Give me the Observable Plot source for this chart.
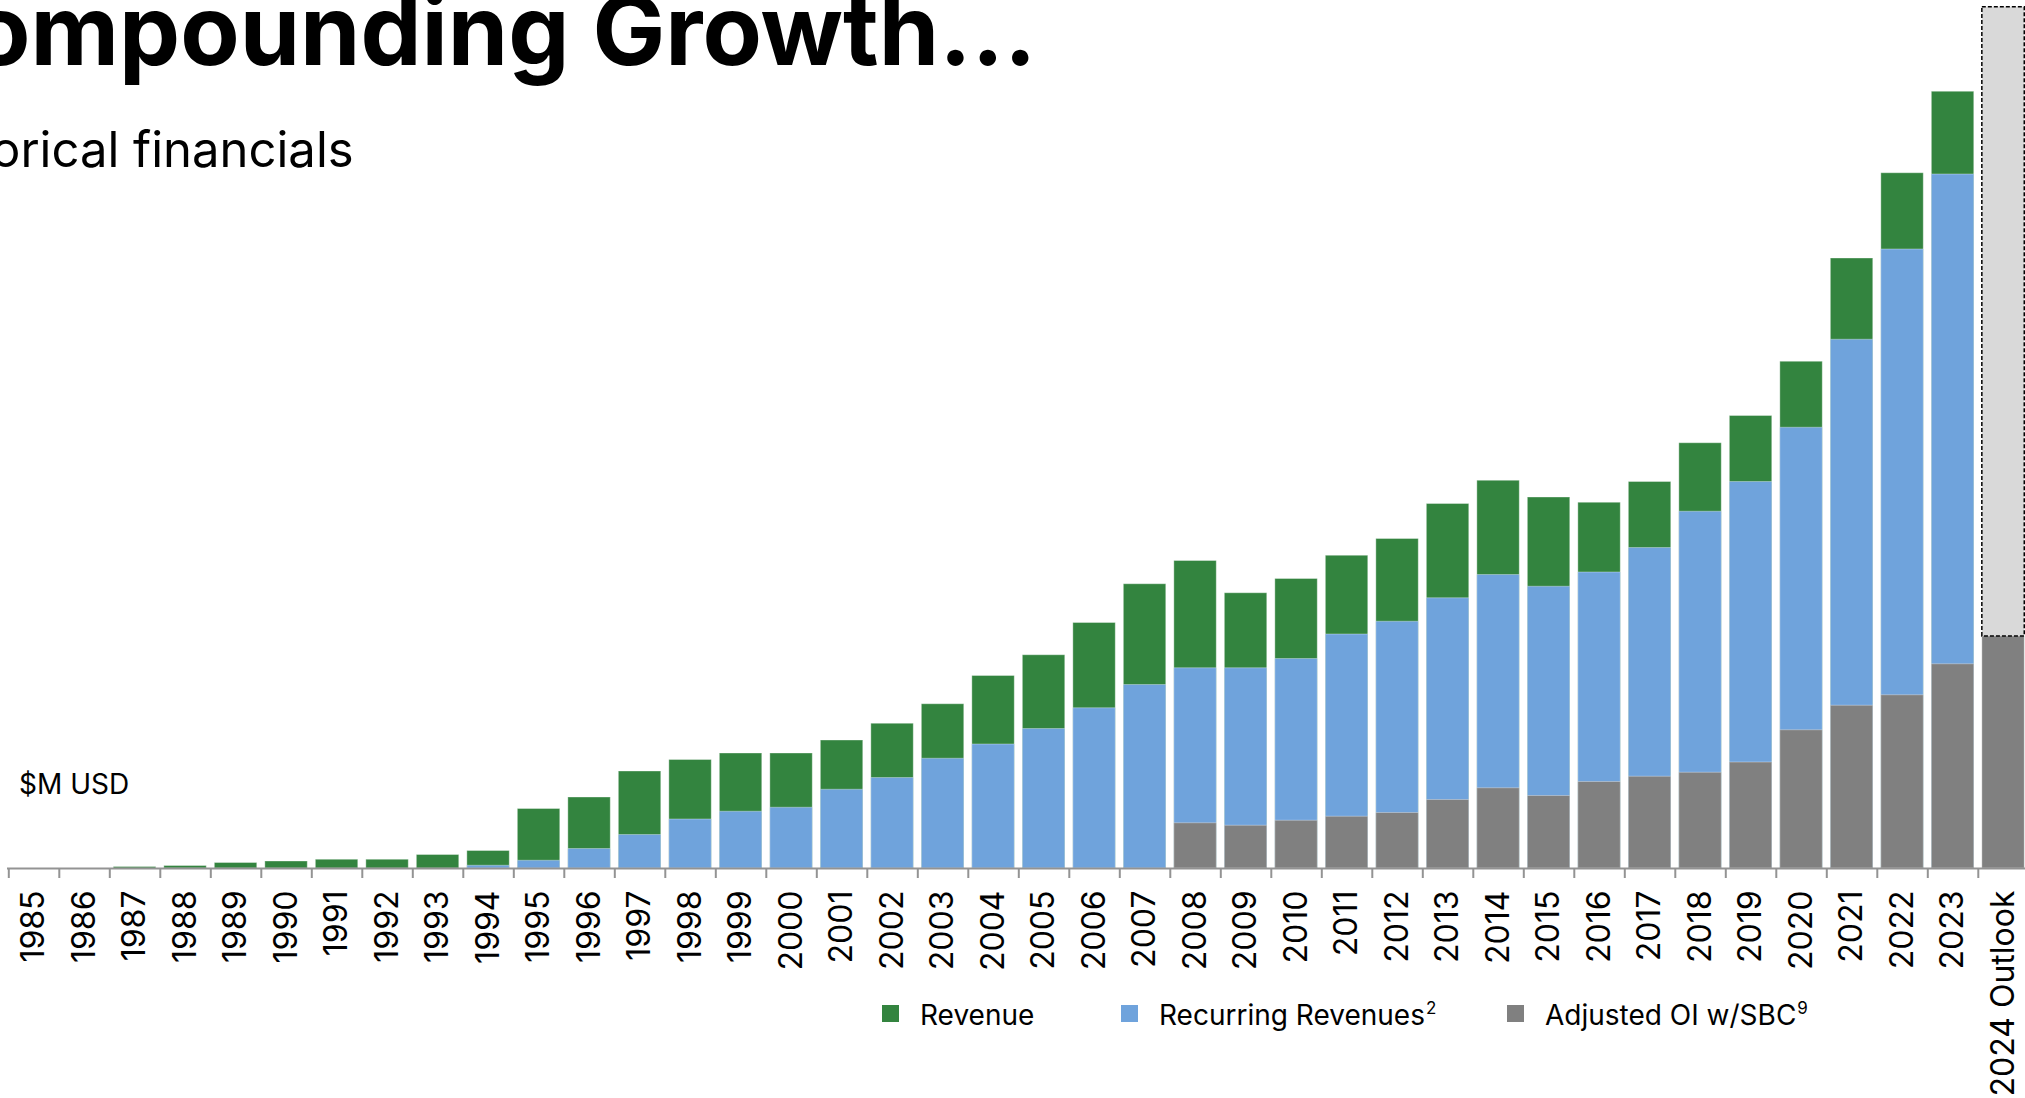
<!DOCTYPE html>
<html>
<head>
<meta charset="utf-8">
<script src="https://cdn.jsdelivr.net/npm/d3@7"></script>
<script src="https://cdn.jsdelivr.net/npm/@observablehq/plot@0.6"></script>
<style>
  html, body { margin: 0; padding: 0; background: #ffffff; width: 2025px; height: 1098px; overflow: hidden; }
  #wrap { position: relative; width: 2025px; height: 1098px; overflow: hidden; font-family: Inter, "Noto Sans", sans-serif; color: #000; }
  #chart { position: absolute; left: 0; top: 0; width: 2025px; }
  #chart svg { overflow: hidden; display: block; }
  .t { position: absolute; white-space: nowrap; line-height: 1; margin: 0; }
  #title { left: -29px; top: -18.7px; font-size: 97px; font-weight: 700; }
  #subtitle { left: -9px; top: 124.7px; font-size: 49px; font-weight: 400; }
  #unit { left: 19px; top: 769.8px; font-size: 28px; }
  .sw { position: absolute; width: 17px; height: 17px; top: 1005px; }
  .lg { position: absolute; white-space: nowrap; line-height: 1; font-size: 28px; top: 1000.8px; }
  .sup { font-size: 17px; position: relative; top: -11px; margin-left: 1px; }
</style>
</head>
<body>
<div id="wrap">
  <div id="chart"></div>
  <div class="t" id="title">ompounding Growth…</div>
  <div class="t" id="subtitle">orical financials</div>
  <div class="t" id="unit">$M USD</div>
  <div id="legend"></div>
</div>
<script>
// ---- Data ($M USD) ----
const years = ["1985","1986","1987","1988","1989","1990","1991","1992","1993","1994",
  "1995","1996","1997","1998","1999","2000","2001","2002","2003","2004",
  "2005","2006","2007","2008","2009","2010","2011","2012","2013","2014",
  "2015","2016","2017","2018","2019","2020","2021","2022","2023","2024 Outlook"];
const revenue = [0, 0, 6, 10, 22, 28, 35, 35, 54, 70,
  238, 284, 388, 434, 460, 460, 512, 579, 657, 770,
  853, 982, 1137, 1230, 1101, 1158, 1251, 1318, 1458, 1551,
  1484, 1463, 1546, 1701, 1810, 2027, 2440, 2781, 3107, null];
const recurringRevenues = [null, null, null, null, null, null, null, null, null, 11,
  31, 78, 134, 196, 227, 243, 315, 362, 439, 496,
  558, 641, 734, 801, 801, 838, 936, 987, 1081, 1174,
  1127, 1184, 1282, 1427, 1546, 1763, 2115, 2476, 2776, null];
const adjustedOI = [null, null, null, null, null, null, null, null, null, null,
  null, null, null, null, null, null, null, null, null, null,
  null, null, null, 181, 171, 191, 207, 222, 274, 321,
  290, 346, 367, 383, 424, 553, 651, 693, 817, 928];
const outlookTop = [null, null, null, null, null, null, null, null, null, null,
  null, null, null, null, null, null, null, null, null, null,
  null, null, null, null, null, null, null, null, null, null,
  null, null, null, null, null, null, null, null, null, 3445];
const seriesNames = ["Revenue", "Recurring Revenues", "Adjusted OI w/SBC"];
const seriesSup = ["", "2", "9"];
const colors = ["#33843f", "#6fa3dc", "#808080"];

const rows = years.map((year, i) => ({
  year,
  revenue: revenue[i],
  recurring: recurringRevenues[i],
  oi: adjustedOI[i],
  outlookTop: outlookTop[i]
}));

// ---- Layout ----
const W = 2025, H = 1098;
const xRange = [8.3, 2028.3];
const step = (xRange[1] - xRange[0]) / years.length;
const barStyle = { stroke: "#ffffff", strokeOpacity: 0.35, strokeWidth: 1 };

const chart = Plot.plot({
  width: W,
  height: H,
  marginTop: 0,
  marginBottom: 230,
  marginLeft: 7,
  marginRight: 0,
  style: { fontFamily: "Inter, 'Noto Sans', sans-serif", color: "#000", background: "transparent", overflow: "hidden" },
  x: { type: "band", domain: years, range: xRange, paddingInner: 0.16, paddingOuter: 0.08, round: false, axis: null, label: null },
  y: { domain: [0, 3472], range: [868, 0], axis: null, label: null },
  marks: [
    Plot.barY(rows, { x: "year", y: "revenue", fill: colors[0], ...barStyle }),
    Plot.barY(rows, { x: "year", y: "recurring", fill: colors[1], ...barStyle }),
    Plot.barY(rows, { x: "year", y: "oi", fill: colors[2], ...barStyle }),
    Plot.barY(rows.filter(d => d.outlookTop != null), {
      x: "year", y1: "oi", y2: "outlookTop",
      fill: "#d9d9d9", stroke: "#000", strokeWidth: 1.5, strokeDasharray: "4,2"
    }),
    Plot.ruleY([0], { stroke: "#939393", strokeWidth: 2 }),
    Plot.axisX({ label: null, tickSize: 10, tickFormat: () => "", dx: -step / 2, stroke: "#939393", strokeWidth: 2 }),
    Plot.axisX({ label: null, tickSize: 0, tickPadding: 22, tickRotate: -90, fontSize: 32, fill: "#000" })
  ]
});
document.getElementById("chart").appendChild(chart);

// ---- Legend ----
const legendSwatchX = [882, 1121, 1507];
const legend = document.getElementById("legend");
seriesNames.forEach((name, i) => {
  const sw = document.createElement("div");
  sw.className = "sw";
  sw.style.left = legendSwatchX[i] + "px";
  sw.style.background = colors[i];
  legend.appendChild(sw);
  const lab = document.createElement("div");
  lab.className = "lg";
  lab.style.left = (legendSwatchX[i] + 38) + "px";
  lab.textContent = name;
  if (seriesSup[i]) {
    const s = document.createElement("span");
    s.className = "sup";
    s.textContent = seriesSup[i];
    lab.appendChild(s);
  }
  legend.appendChild(lab);
});
</script>
</body>
</html>
